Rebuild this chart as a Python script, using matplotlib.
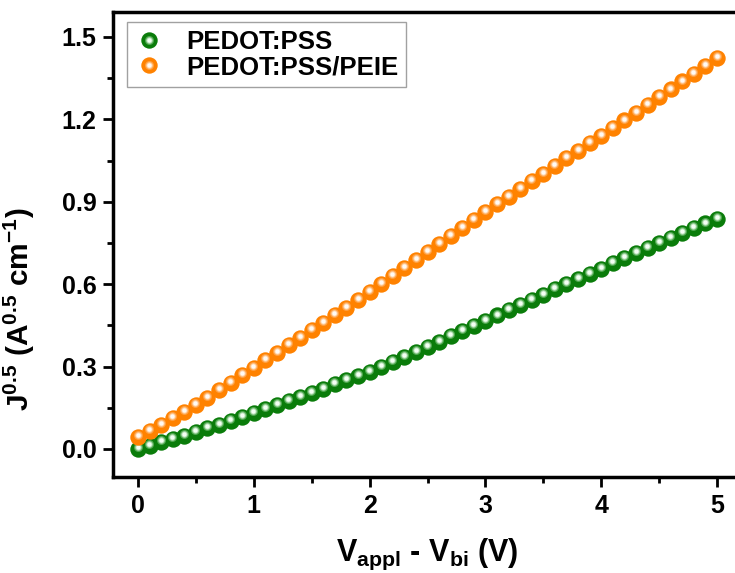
import matplotlib
matplotlib.use("Agg")
import matplotlib.pyplot as plt
from matplotlib.transforms import offset_copy
from matplotlib.legend_handler import HandlerTuple

plt.rcParams['font.family'] = ['Liberation Sans', 'DejaVu Sans']
plt.rcParams['font.weight'] = 'bold'
plt.rcParams['mathtext.fontset'] = 'custom'
plt.rcParams['mathtext.rm'] = 'Liberation Sans:bold'
plt.rcParams['mathtext.bf'] = 'Liberation Sans:bold'
plt.rcParams['mathtext.default'] = 'bf'

voltage = [0.0, 0.1, 0.2, 0.3, 0.4, 0.5, 0.6, 0.7, 0.8, 0.9,
           1.0, 1.1, 1.2, 1.3, 1.4, 1.5, 1.6, 1.7, 1.8, 1.9,
           2.0, 2.1, 2.2, 2.3, 2.4, 2.5, 2.6, 2.7, 2.8, 2.9,
           3.0, 3.1, 3.2, 3.3, 3.4, 3.5, 3.6, 3.7, 3.8, 3.9,
           4.0, 4.1, 4.2, 4.3, 4.4, 4.5, 4.6, 4.7, 4.8, 4.9, 5.0]

pedot_pss = [0.000, 0.012, 0.024, 0.036, 0.049, 0.062, 0.075, 0.088, 0.102, 0.116,
             0.130, 0.144, 0.159, 0.174, 0.189, 0.204, 0.219, 0.235, 0.251, 0.266,
             0.282, 0.300, 0.318, 0.336, 0.354, 0.372, 0.391, 0.410, 0.429, 0.448,
             0.467, 0.486, 0.505, 0.524, 0.543, 0.562, 0.581, 0.600, 0.619, 0.638,
             0.657, 0.676, 0.694, 0.712, 0.731, 0.749, 0.767, 0.785, 0.803, 0.821, 0.839]

pedot_pss_peie = [0.044, 0.066, 0.089, 0.112, 0.136, 0.160, 0.187, 0.214, 0.241, 0.268,
                  0.296, 0.323, 0.350, 0.377, 0.404, 0.432, 0.459, 0.487, 0.515, 0.544,
                  0.573, 0.602, 0.631, 0.660, 0.689, 0.718, 0.747, 0.776, 0.805, 0.834,
                  0.863, 0.891, 0.919, 0.947, 0.975, 1.003, 1.030, 1.058, 1.086, 1.113,
                  1.140, 1.168, 1.196, 1.225, 1.253, 1.281, 1.309, 1.338, 1.366, 1.394, 1.423]

labels = ['PEDOT:PSS', 'PEDOT:PSS/PEIE']
xticks = [0, 1, 2, 3, 4, 5]
yticks = [0.0, 0.3, 0.6, 0.9, 1.2, 1.5]

fig = plt.figure(figsize=(7.35, 5.73), dpi=100)
ax = fig.add_axes([113/735, 1-477/573, 629/735, 465/573])

styles = [
    ('#0a7c0a', '#4fa84f', '#a9d9a9', '#f4fff4'),
    ('#ff8200', '#ffa040', '#ffcc99', '#fffaf4'),
]
handles = []
for ys, lab, (c0, c1, c2, c3) in zip([pedot_pss, pedot_pss_peie], labels, styles):
    base, = ax.plot(voltage, ys, 'o', ms=11.8, color=c0, mew=0, zorder=3)
    tr = offset_copy(ax.transData, fig=fig, x=-0.3, y=1.4, units='points')
    m1, = ax.plot(voltage, ys, 'o', ms=6.5, color=c1, mew=0, transform=tr, zorder=3)
    m2, = ax.plot(voltage, ys, 'o', ms=4.8, color=c2, mew=0, transform=tr, zorder=3)
    m3, = ax.plot(voltage, ys, 'o', ms=3.2, color=c3, mew=0, transform=tr, zorder=3)
    handles.append((base, m1, m2, m3))

ax.set_xlim(-0.216, 5.216)
ax.set_ylim(-0.102, 1.591)
ax.set_xticks(xticks)
ax.set_yticks(yticks)
ax.set_xticklabels([str(v) for v in xticks])
ax.set_yticklabels([f'{v:.1f}' for v in yticks])
ax.set_xticks([0.5, 1.5, 2.5, 3.5, 4.5], minor=True)
ax.set_yticks([0.15, 0.45, 0.75, 1.05, 1.35], minor=True)
ax.tick_params(which='major', direction='out', length=7, width=2, labelsize=18, pad=5)
ax.tick_params(which='minor', direction='out', length=4, width=2)
for s in ax.spines.values():
    s.set_linewidth(2.5)

ax.set_xlabel(r'V$_{\mathbf{appl}}$ - V$_{\mathbf{bi}}$ (V)', fontsize=22, fontweight='bold')
ax.xaxis.set_label_coords(0.5, -0.128)
ax.set_ylabel(r'J$^{\mathbf{0.5}}$ (A$^{\mathbf{0.5}}$ cm$^{\mathbf{-1}}$)', fontsize=21.5, fontweight='bold')
ax.yaxis.set_label_coords(-0.121, 0.36)

leg = ax.legend(handles, labels, loc='upper left', bbox_to_anchor=(0.022, 0.978),
                borderaxespad=0, fontsize=18.5, frameon=True, fancybox=False,
                handler_map={tuple: HandlerTuple(ndivide=1, pad=0)},
                handlelength=1.1, handletextpad=0.9, labelspacing=0.05, borderpad=0.3)
leg.get_frame().set_edgecolor('#8a8a8a')
leg.get_frame().set_linewidth(1.0)

fig.savefig('out.png', dpi=100)
